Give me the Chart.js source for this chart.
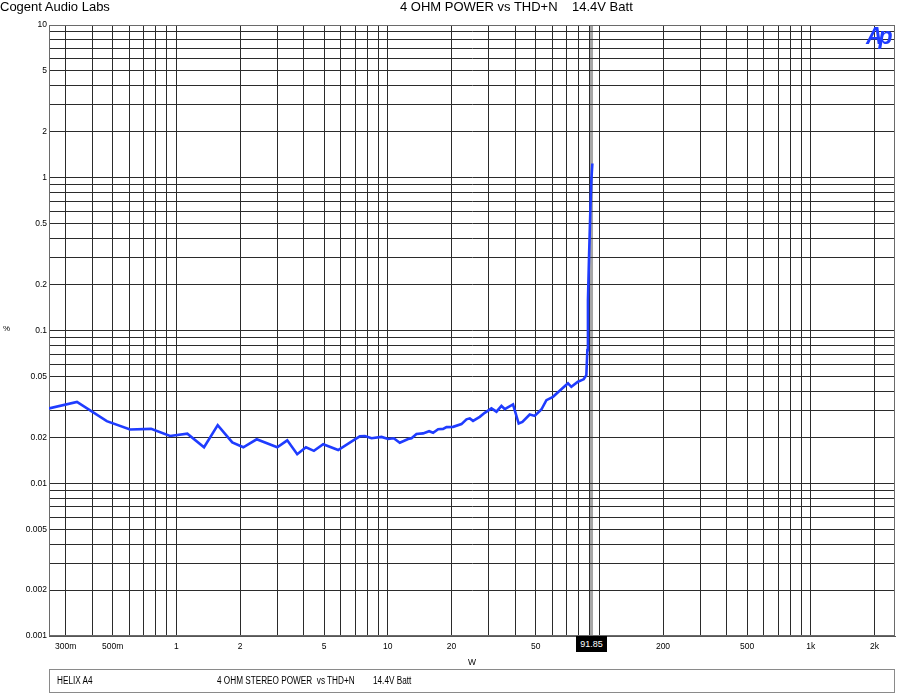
<!DOCTYPE html>
<html>
<head>
<meta charset="utf-8">
<script src="https://cdn.jsdelivr.net/npm/chart.js@4"></script>
<style>
html,body{margin:0;padding:0;background:#fff;}
#wrap{position:relative;width:900px;height:698px;overflow:hidden;font-family:Arial,"Liberation Sans",sans-serif;}
#c{position:absolute;left:0;top:0;}
.t{position:absolute;white-space:pre;color:#000;line-height:1;}
#foot{position:absolute;left:49px;top:669px;width:846px;height:24px;box-sizing:border-box;border:1px solid #8a8a8a;}
.ft{position:absolute;white-space:pre;font-size:10px;line-height:1;transform:scaleX(0.82);transform-origin:0 0;color:#000;}
#marker{position:absolute;top:636px;height:16px;width:31px;background:#000;color:#fff;font-size:9px;line-height:16px;text-align:center;}
#ap{position:absolute;left:866px;top:25px;font-size:23px;font-weight:bold;font-style:italic;color:#1f3cff;letter-spacing:-4px;line-height:1;}
</style>
</head>
<body>
<div id="wrap">
<canvas id="c" width="900" height="698"></canvas>
<div class="t" style="left:0px;top:0px;font-size:13px;">Cogent Audio Labs</div>
<div class="t" style="left:400px;top:0px;font-size:13px;">4 OHM POWER vs THD+N    14.4V Batt</div>
<div class="t" style="left:3px;top:325px;font-size:8px;">%</div>
<div class="t" style="left:468px;top:658px;font-size:8.5px;">W</div>
<div id="ap">Ap</div>
<div id="marker">91.85</div>
<div id="foot"></div>
<div class="ft" style="left:57px;top:676px;">HELIX A4</div>
<div class="ft" style="left:217px;top:676px;">4 OHM STEREO POWER  vs THD+N</div>
<div class="ft" style="left:373px;top:676px;">14.4V Batt</div>
</div>
<script>
// Output power (W)
const watts = [0.25, 0.339, 0.469, 0.604, 0.760, 0.934, 1.127, 1.352, 1.569, 1.839,
  2.073, 2.398, 3.000, 3.345, 3.729, 4.100, 4.472, 4.948, 5.824, 6.985,
  7.375, 7.788, 8.375, 9.337, 10.03, 10.67, 11.39, 12.47, 12.94, 13.66,
  14.68, 15.67, 16.37, 17.29, 18.25, 18.94, 20.35, 22.29, 23.54, 24.40,
  25.29, 27.20, 28.72, 30.89, 32.63, 34.44, 35.70, 39.07, 41.56, 43.28,
  46.86, 49.48, 53.21, 56.20, 60.37, 63.76, 68.56, 71.07, 73.74, 79.21,
  84.31, 86.83, 87.78, 88.35, 89.31, 90.69, 91.68, 92.69];
// THD+N (%)
const thdPct = [0.0309, 0.0341, 0.0255, 0.0225, 0.0227, 0.0204, 0.0211, 0.0172, 0.0240, 0.0185,
  0.0172, 0.0194, 0.0172, 0.0191, 0.0155, 0.0172, 0.0163, 0.0180, 0.0165, 0.0194,
  0.0203, 0.0204, 0.0197, 0.0201, 0.0195, 0.0197, 0.0184, 0.0195, 0.0197, 0.0210,
  0.0212, 0.0219, 0.0214, 0.0226, 0.0227, 0.0233, 0.0234, 0.0244, 0.0262, 0.0266,
  0.0256, 0.0272, 0.0289, 0.0309, 0.0294, 0.0321, 0.0306, 0.0328, 0.0246, 0.0252,
  0.0282, 0.0276, 0.0304, 0.0350, 0.0368, 0.0394, 0.0432, 0.0451, 0.0428, 0.0462,
  0.0479, 0.0510, 0.0744, 0.158, 0.289, 0.615, 0.966, 1.24];

const xLabelVals = [0.3, 0.5, 1, 2, 5, 10, 20, 50, 200, 500, 1000, 2000];
const xLabelText = ['300m', '500m', '1', '2', '5', '10', '20', '50', '200', '500', '1k', '2k'];
const yLabelVals = [10, 5, 2, 1, 0.5, 0.2, 0.1, 0.05, 0.02, 0.01, 0.005, 0.002, 0.001];
const yLabelText = ['10', '5', '2', '1', '0.5', '0.2', '0.1', '0.05', '0.02', '0.01', '0.005', '0.002', '0.001'];
const gridMultiples = [1, 2, 3, 4, 5, 6, 7, 8, 9];
const markerW = 91.85;
const xMin = 0.25, xMax = 2500, yMin = 0.001, yMax = 10;

function gridVals(min, max) {
  const out = [];
  for (let e = -4; e <= 4; e++) {
    for (const m of gridMultiples) {
      const v = +(m * Math.pow(10, e)).toPrecision(6);
      if (v >= min * 0.9999 && v <= max * 1.0001) out.push(v);
    }
  }
  return out;
}
function labelFor(v, vals, texts) {
  for (let i = 0; i < vals.length; i++) {
    if (Math.abs(Math.log10(v) - Math.log10(vals[i])) < 1e-6) return texts[i];
  }
  return '';
}

const tickFont = {family: 'Arial, "Liberation Sans", sans-serif', size: 8.5};
const points = watts.map((w, i) => ({x: w, y: thdPct[i]}));

const decor = {
  id: 'decor',
  beforeDraw(chart) {
    const {ctx, chartArea, scales} = chart;
    const px = scales.x.getPixelForValue(markerW);
    ctx.save();
    ctx.fillStyle = '#a6a6a6';
    ctx.fillRect(px - 1.5, chartArea.top, 3, chartArea.bottom - chartArea.top);
    ctx.restore();
  },
  beforeDatasetsDraw(chart) {
    const {ctx, chartArea} = chart;
    ctx.save();
    ctx.strokeStyle = '#6a6a6a';
    ctx.lineWidth = 1;
    ctx.strokeRect(chartArea.left + 0.5, chartArea.top + 0.5, chartArea.right - chartArea.left - 1, chartArea.bottom - chartArea.top - 1);
    ctx.restore();
  }
};

const chart = new Chart(document.getElementById('c'), {
  type: 'scatter',
  data: {
    datasets: [{
      data: points,
      showLine: true,
      borderColor: '#1f3cff',
      backgroundColor: '#1f3cff',
      borderWidth: 2.6,
      pointRadius: 0,
      tension: 0
    }]
  },
  options: {
    responsive: false,
    animation: false,
    devicePixelRatio: 1,
    layout: {padding: {top: 25, right: 5, left: 0, bottom: 0}},
    plugins: {legend: {display: false}, tooltip: {enabled: false}, title: {display: false}},
    scales: {
      x: {
        type: 'logarithmic', min: xMin, max: xMax, position: 'bottom',
        afterBuildTicks: s => { s.ticks = gridVals(xMin, xMax).map(v => ({value: v})); },
        afterFit: s => { s.height = 62; },
        grid: {color: '#2b2b2b', lineWidth: 1, drawTicks: false},
        border: {display: true, color: '#555'},
        ticks: {autoSkip: false, maxRotation: 0, minRotation: 0, padding: 6, font: tickFont, color: '#000',
          callback: v => labelFor(v, xLabelVals, xLabelText)}
      },
      y: {
        type: 'logarithmic', min: yMin, max: yMax, position: 'left',
        afterBuildTicks: s => { s.ticks = gridVals(yMin, yMax).map(v => ({value: v})); },
        afterFit: s => { s.width = 49; },
        grid: {color: '#2b2b2b', lineWidth: 1, drawTicks: false},
        border: {display: true, color: '#555'},
        ticks: {autoSkip: false, padding: 2, font: tickFont, color: '#000',
          callback: v => labelFor(v, yLabelVals, yLabelText)}
      }
    }
  },
  plugins: [decor]
});

const mpx = chart.scales.x.getPixelForValue(markerW);
const mk = document.getElementById('marker');
mk.style.left = (mpx - 15.5) + 'px';
mk.style.top = chart.chartArea.bottom + 'px';
</script>
</body>
</html>
